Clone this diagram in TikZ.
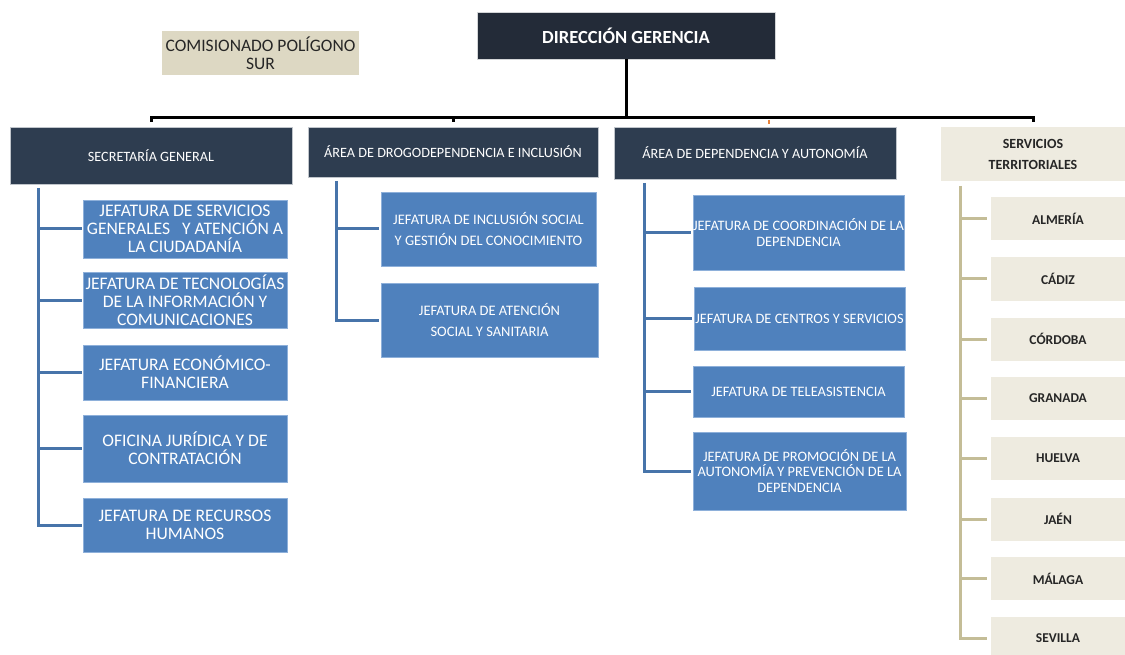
\documentclass[tikz,border=0pt]{standalone}
\usepackage{fontspec}
\setmainfont{Carlito}
\definecolor{topnavy}{HTML}{232B38}
\definecolor{navy}{HTML}{2E3D50}
\definecolor{jblue}{HTML}{4F81BD}
\definecolor{jborder}{HTML}{8EB0DA}
\definecolor{sand}{HTML}{DDD8C3}
\definecolor{cream}{HTML}{EEEBE0}
\definecolor{tan}{HTML}{C4BD97}
\definecolor{tickorange}{HTML}{E8833A}
\tikzset{
  unit/.style={inner sep=0pt, align=center, anchor=center},
  topbox/.style={unit, fill=topnavy, draw=white!80!topnavy, line width=0.6pt,
    text=white, font=\fontsize{18.5}{22}\selectfont\bfseries},
  areabox/.style={unit, fill=navy, draw=white!70!navy, line width=0.6pt,
    text=white, font=\fontsize{14.2}{17}\selectfont},
  territbox/.style={unit, fill=cream, text=black!85, font=\fontsize{14}{21}\selectfont\bfseries},
  provbox/.style={unit, fill=cream, text=black!85, font=\fontsize{13.5}{16}\selectfont\bfseries,
    minimum width=134pt, minimum height=43pt},
  sandbox/.style={unit, fill=sand, text=black!85, font=\fontsize{17.5}{18}\selectfont},
  jefbig/.style={unit, fill=jblue, draw=jborder, line width=0.6pt, text=white,
    font=\fontsize{17.6}{18}\selectfont},
  jefsmall/.style={unit, fill=jblue, draw=jborder, line width=0.6pt, text=white,
    font=\fontsize{14.5}{21.5}\selectfont},
  jefmid/.style={unit, fill=jblue, draw=jborder, line width=0.6pt, text=white,
    font=\fontsize{14.4}{15.6}\selectfont},
  busline/.style={line width=3pt, black},
  blueline/.style={line width=3pt, jblue!90!black},
  tanline/.style={line width=3pt, tan},
}
\begin{document}
\begin{tikzpicture}[x=1pt, y=-1pt]
\useasboundingbox (0,0) rectangle (1125,655);

% top level
\node[topbox, minimum width=298pt, minimum height=47pt] (dg) at (626,35.5) {DIRECCIÓN GERENCIA};
\node[sandbox, minimum width=197pt, minimum height=44pt] (cps) at (260.5,53) {COMISIONADO POLÍGONO\\SUR};

% second level
\node[areabox, minimum width=282pt, minimum height=57pt] (sg) at (151,155.5) {SECRETARÍA GENERAL};
\node[areabox, minimum width=290pt, minimum height=50pt] (ad) at (453,152) {ÁREA DE DROGODEPENDENCIA E INCLUSIÓN};
\node[areabox, minimum width=282pt, minimum height=52pt] (ap) at (755,153) {ÁREA DE DEPENDENCIA Y AUTONOMÍA};
\node[territbox, minimum width=184pt, minimum height=54pt] (st) at (1033,154) {SERVICIOS\\TERRITORIALES};

% main bus
\coordinate (bus) at (626,118);
\draw[busline] (dg.south) -- (bus);
\draw[busline] ([yshift=5pt]sg.north) -- (sg.north |- bus) -- (st.north |- bus) -- ([yshift=5pt]st.north);
\draw[busline] (ad.north |- bus) -- ([yshift=5pt]ad.north);
\draw[line width=2pt, tickorange] ([xshift=14pt]ap.north |- bus) ++(0,2) -- ([xshift=14pt,yshift=3pt]ap.north);

% Secretaría General
\node[jefbig, minimum width=204pt, minimum height=58pt] (s1) at (185,229) {JEFATURA DE SERVICIOS\\GENERALES\hspace{12pt}Y ATENCIÓN A\\LA CIUDADANÍA};
\node[jefbig, minimum width=204pt, minimum height=56pt] (s2) at (185,300) {JEFATURA DE TECNOLOGÍAS\\DE LA INFORMACIÓN Y\\COMUNICACIONES};
\node[jefbig, minimum width=204pt, minimum height=55pt] (s3) at (185,372.5) {JEFATURA ECONÓMICO-\\FINANCIERA};
\node[jefbig, minimum width=204pt, minimum height=67pt] (s4) at (185,448.5) {OFICINA JURÍDICA Y DE\\CONTRATACIÓN};
\node[jefbig, minimum width=204pt, minimum height=54pt] (s5) at (185,525) {JEFATURA DE RECURSOS\\HUMANOS};
\coordinate (sgspine) at (38,188);
\draw[blueline] (sgspine) |- ([xshift=-1pt]s5.west);
\foreach \c in {s1,s2,s3,s4}
  \draw[blueline] (sgspine |- \c.west) -- ([xshift=-1pt]\c.west);

% Drogodependencia e Inclusión
\node[jefsmall, minimum width=215pt, minimum height=74pt] (d1) at (488.5,229) {JEFATURA DE INCLUSIÓN SOCIAL\\Y GESTIÓN DEL CONOCIMIENTO};
\node[jefsmall, minimum width=217pt, minimum height=74pt] (d2) at (489.5,320) {JEFATURA DE ATENCIÓN\\SOCIAL Y SANITARIA};
\coordinate (adspine) at (336,181);
\draw[blueline] (adspine) |- ([xshift=-2pt]d2.west);
\draw[blueline] (adspine |- d1.west) -- ([xshift=-2pt]d1.west);

% Dependencia y Autonomía
\node[jefmid, minimum width=211pt, minimum height=75pt] (p1) at (798.5,232.5) {JEFATURA DE COORDINACIÓN DE LA\\DEPENDENCIA};
\node[jefmid, minimum width=211pt, minimum height=63pt] (p2) at (799.5,318.5) {JEFATURA DE CENTROS Y SERVICIOS};
\node[jefmid, minimum width=211pt, minimum height=51pt] (p3) at (798.5,391.5) {JEFATURA DE TELEASISTENCIA};
\node[jefmid, minimum width=213pt, minimum height=78pt] (p4) at (799.5,471) {JEFATURA DE PROMOCIÓN DE LA\\AUTONOMÍA Y PREVENCIÓN DE LA\\DEPENDENCIA};
\coordinate (apspine) at (644,183);
\draw[blueline] (apspine) |- ([xshift=-2pt]p4.west);
\foreach \c in {p1,p2,p3}
  \draw[blueline] (apspine |- \c.west) -- ([xshift=-2pt]\c.west);

% Servicios Territoriales
\node[provbox] (t1) at (1058,218.5) {ALMERÍA};
\node[provbox] (t2) at (1058,279) {CÁDIZ};
\node[provbox] (t3) at (1058,339) {CÓRDOBA};
\node[provbox] (t4) at (1058,398.5) {GRANADA};
\node[provbox] (t5) at (1058,458.5) {HUELVA};
\node[provbox] (t6) at (1058,519) {JAÉN};
\node[provbox] (t7) at (1058,578.5) {MÁLAGA};
\node[provbox] (t8) at (1058,638.5) {SEVILLA};
\coordinate (stspine) at (960,186);
\draw[tanline] (stspine) |- ([xshift=-4pt]t8.west);
\foreach \c in {t1,t2,t3,t4,t5,t6,t7}
  \draw[tanline] (stspine |- \c.west) -- ([xshift=-4pt]\c.west);
\end{tikzpicture}
\end{document}
